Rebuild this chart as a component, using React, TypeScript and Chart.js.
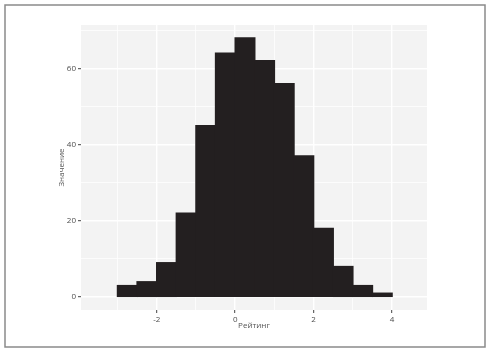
import React, { useEffect, useRef } from "react";
import { Chart, registerables } from "chart.js";

Chart.register(...registerables);

// Histogram bins (centres of 0.5-wide bins) and counts
const binCenters = [-2.75, -2.25, -1.75, -1.25, -0.75, -0.25, 0.25, 0.75, 1.25, 1.75, 2.25, 2.75, 3.25, 3.75];
const counts = [3, 4, 9, 22, 45, 64, 68, 62, 56, 37, 18, 8, 3, 1];

const xMajorTicks = [-2, 0, 2, 4];
const xMinorTicks = [-3, -1, 1, 3];
const yMajorTicks = [0, 20, 40, 60];
const yMinorTicks = [10, 30, 50, 70];

const xTitle = "Рейтинг";
const yTitle = "Значение";

const FONT = "'Open Sans', 'DejaVu Sans', sans-serif";

export default function App() {
  const ref = useRef<HTMLCanvasElement | null>(null);

  useEffect(() => {
    document.body.style.margin = "0";
    const canvas = ref.current;
    if (!canvas) return;

    const framePlugin = {
      id: "frame",
      beforeDraw(chart: any) {
        const { ctx, chartArea } = chart;
        ctx.save();
        ctx.fillStyle = "#ffffff";
        ctx.fillRect(0, 0, chart.width, chart.height);
        ctx.fillStyle = "#F3F3F3";
        ctx.fillRect(chartArea.left, chartArea.top, chartArea.right - chartArea.left, chartArea.bottom - chartArea.top);
        ctx.strokeStyle = "#8a8a8a";
        ctx.lineWidth = 1.5;
        ctx.strokeRect(5, 5, 480, 342);
        ctx.restore();
      },
    };

    const isMajor = (list: number[], v: any) => list.includes(v);

    const chart = new Chart(canvas, {
      type: "bar",
      data: {
        datasets: [
          {
            data: binCenters.map((x, i) => ({ x, y: counts[i] })),
            backgroundColor: "#231F20",
            borderWidth: 0,
            inflateAmount: 0.7,
            barPercentage: 1,
            categoryPercentage: 1,
          },
        ],
      },
      options: {
        animation: false,
        responsive: false,
        events: [],
        layout: { padding: { top: 25, right: 64, left: 0, bottom: 0 } },
        plugins: { legend: { display: false }, tooltip: { enabled: false } },
        scales: {
          x: {
            type: "linear",
            min: -3.93,
            max: 4.89,
            offset: false,
            afterBuildTicks: (s: any) => {
              s.ticks = [...xMinorTicks, ...xMajorTicks].sort((a, b) => a - b).map((v) => ({ value: v }));
            },
            afterFit: (s: any) => {
              s.height = 43;
            },
            border: { display: false },
            grid: {
              color: "#ffffff",
              lineWidth: (c: any) => (isMajor(xMajorTicks, c.tick?.value) ? 1.4 : 0.7),
              tickColor: (c: any) => (isMajor(xMajorTicks, c.tick?.value) ? "#444444" : "rgba(0,0,0,0)"),
              tickLength: 3,
              tickWidth: 1,
              offset: false,
            },
            ticks: {
              autoSkip: false,
              maxRotation: 0,
              padding: 2,
              color: "#4d4d4d",
              font: { family: FONT, size: 8 },
              callback: (v: any) => (isMajor(xMajorTicks, v) ? String(v) : ""),
            },
            title: {
              display: true,
              text: xTitle,
              color: "#555555",
              font: { family: FONT, size: 8 },
              padding: { top: 0, bottom: 22 },
            },
          },
          y: {
            type: "linear",
            min: -3.4,
            max: 71.4,
            afterBuildTicks: (s: any) => {
              s.ticks = [...yMinorTicks, ...yMajorTicks].sort((a, b) => a - b).map((v) => ({ value: v }));
            },
            afterFit: (s: any) => {
              s.width = 81;
            },
            border: { display: false },
            grid: {
              color: "#ffffff",
              lineWidth: (c: any) => (isMajor(yMajorTicks, c.tick?.value) ? 1.4 : 0.7),
              tickColor: (c: any) => (isMajor(yMajorTicks, c.tick?.value) ? "#444444" : "rgba(0,0,0,0)"),
              tickLength: 3,
              tickWidth: 1,
            },
            ticks: {
              autoSkip: false,
              padding: 2,
              color: "#4d4d4d",
              font: { family: FONT, size: 8 },
              callback: (v: any) => (isMajor(yMajorTicks, v) ? String(v) : ""),
            },
            title: {
              display: true,
              text: yTitle,
              color: "#555555",
              font: { family: FONT, size: 8 },
              padding: { top: 57, bottom: 0 },
            },
          },
        },
      },
      plugins: [framePlugin],
    } as any);

    return () => chart.destroy();
  }, []);

  return <canvas ref={ref} width={491} height={353} style={{ display: "block" }} />;
}
